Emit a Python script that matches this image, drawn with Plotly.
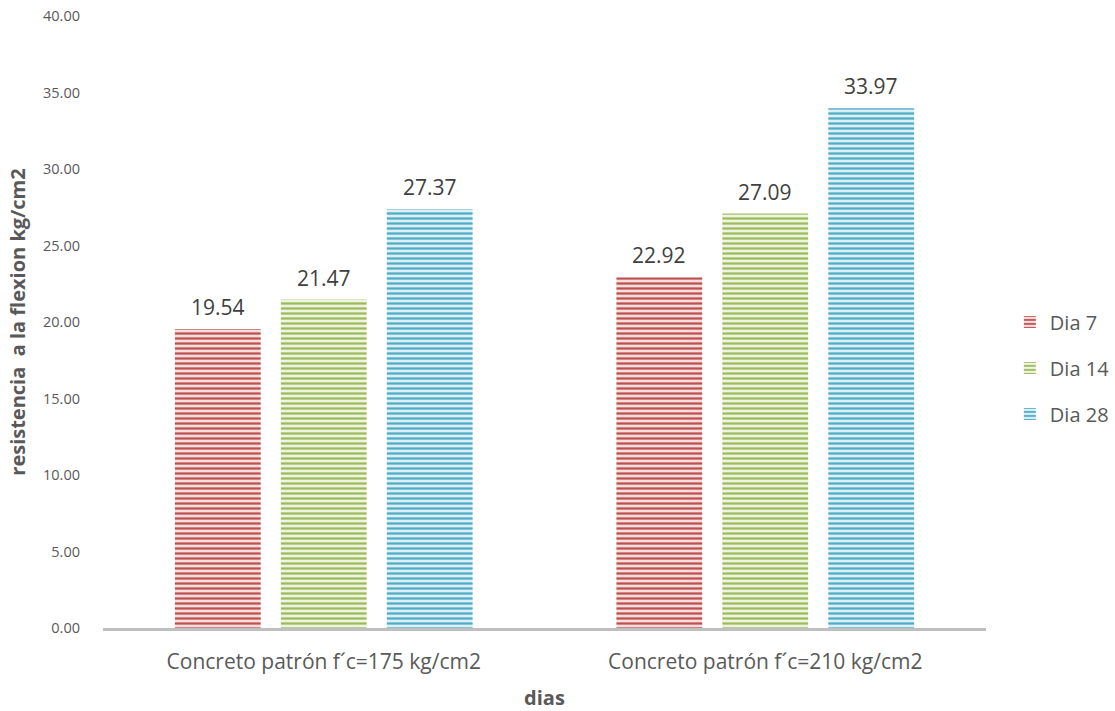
import plotly.graph_objects as go

# Flexural strength of the reference concretes at each curing age
categories = ["Concreto patrón f´c=175 kg/cm2", "Concreto patrón f´c=210 kg/cm2"]
series_names = ["Dia 7", "Dia 14", "Dia 28"]
dia_7 = [19.54, 22.92]
dia_14 = [21.47, 27.09]
dia_28 = [27.37, 33.97]
y_ticks = [0, 5, 10, 15, 20, 25, 30, 35, 40]

series_values = [dia_7, dia_14, dia_28]
stripe_colors = ["#c0504d", "#9bbb59", "#4bacc6"]
fill_colors = ["#f4dede", "#eef3e2", "#def0f5"]

FONT = "'Open Sans', sans-serif"
TEXT_GRAY = "#595959"

fig = go.Figure()
for i, (name, vals) in enumerate(zip(series_names, series_values)):
    fig.add_trace(go.Bar(
        x=categories,
        y=vals,
        name=name,
        legendgroup=name,
        marker=dict(
            color=fill_colors[i],
            line=dict(width=0),
            pattern=dict(shape="-", size=5, solidity=0.45,
                         fgcolor=stripe_colors[i], bgcolor=fill_colors[i],
                         fillmode="replace"),
        ),
        hoverinfo="x+y+name",
    ))

# Value labels above each bar
n = len(series_names)
for i, vals in enumerate(series_values):
    for j, v in enumerate(vals):
        fig.add_annotation(
            x=categories[j], y=v, text=f"{v:.2f}",
            xref="x", yref="y", showarrow=False,
            yanchor="bottom", yshift=6,
            xshift=(i - (n - 1) / 2) * 106,
            font=dict(family=FONT, size=21, color="#404040"),
        )

fig.update_layout(
    width=1115, height=711,
    margin=dict(l=103, r=129, t=16, b=83, autoexpand=False),
    paper_bgcolor="white", plot_bgcolor="white",
    barmode="group", bargap=0.28, bargroupgap=0.19,
    font=dict(family=FONT, color=TEXT_GRAY),
    showlegend=True,
    legend=dict(
        x=1.027, y=0.425, xanchor="left", yanchor="middle",
        font=dict(family=FONT, size=20, color=TEXT_GRAY),
        tracegroupgap=17, itemwidth=30,
    ),
    xaxis=dict(
        showgrid=False, showline=True, linecolor="#bfbfbf", linewidth=3,
        ticks="", ticklabelstandoff=13,
        tickfont=dict(family=FONT, size=21, color=TEXT_GRAY),
        title=dict(text="<b>dias</b>", font=dict(family=FONT, size=20, color=TEXT_GRAY), standoff=25),
    ),
    yaxis=dict(
        range=[0, 40], tickvals=y_ticks, tickformat=".2f",
        showgrid=False, zeroline=False, showline=False, ticks="",
        tickfont=dict(family=FONT, size=14.5, color=TEXT_GRAY),
        ticklabelstandoff=22,
        title=dict(text="<b>resistencia  a la flexion kg/cm2</b>",
                   font=dict(family=FONT, size=20, color=TEXT_GRAY), standoff=12),
    ),
)

fig.write_html("out.html")
